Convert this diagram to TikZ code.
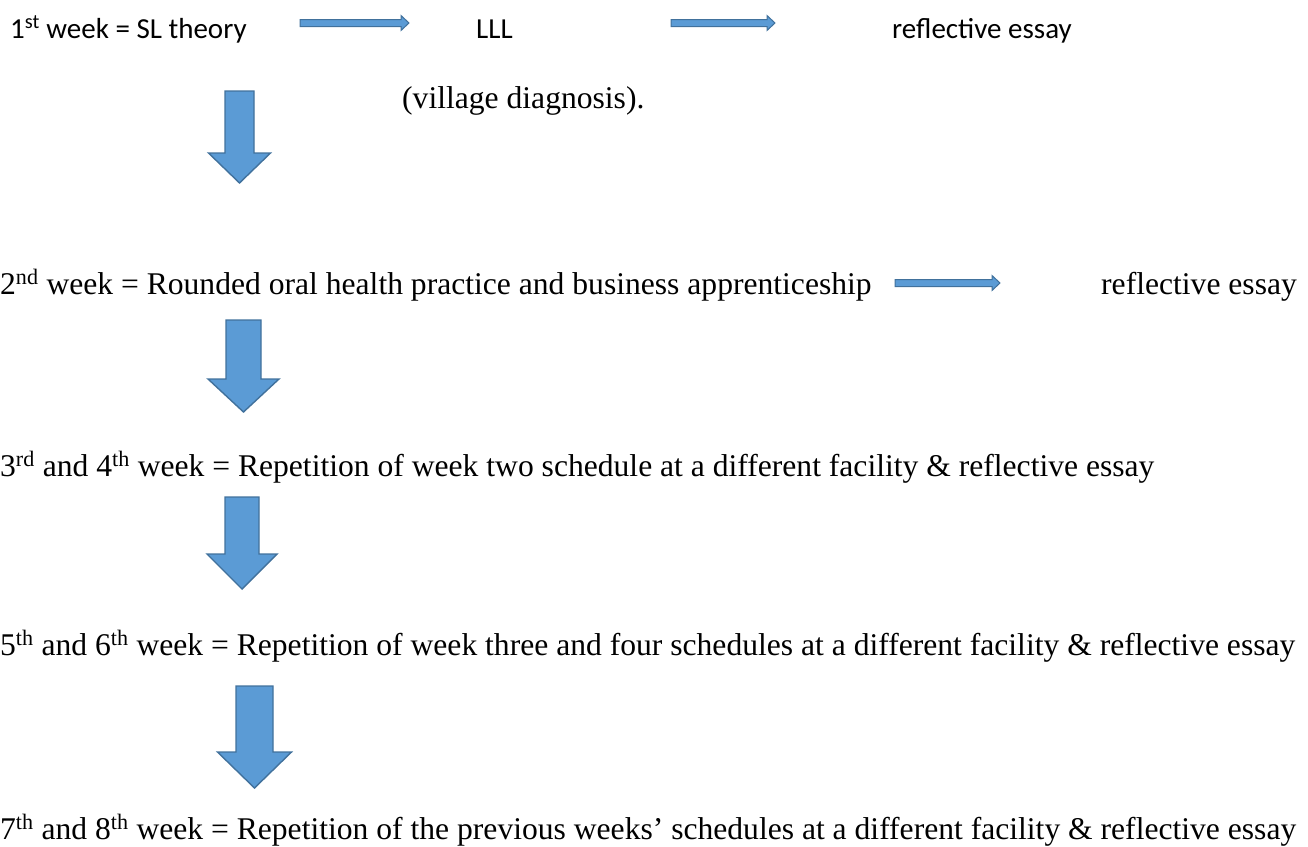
\documentclass[tikz,border=0pt]{standalone}
\usepackage{fontspec}
\setmainfont{Liberation Serif}
\newfontfamily\calfont{Carlito}
\definecolor{arrowfill}{HTML}{5B9BD5}
\definecolor{arrowline}{HTML}{41719C}
\tikzset{
  blockarrow/.style={fill=arrowfill, draw=arrowline, line width=1.4pt, line join=miter},
  thinarrow/.style={fill=arrowfill, draw=arrowline, line width=1pt, line join=miter},
  txt/.style={anchor=base west, inner sep=0pt, font=\fontsize{31.6}{31.6}\selectfont},
  cal/.style={anchor=base west, inner sep=0pt, font=\calfont\fontsize{29}{29}\selectfont}
}
% wide downward block arrow: centre x, top y, shaft half width, head start y, head half width, tip y
\newcommand\downblock[6]{%
  \filldraw[blockarrow] (#1-#3,#2) -- (#1+#3,#2) -- (#1+#3,#4) -- (#1+#5,#4)
    -- (#1,#6) -- (#1-#5,#4) -- (#1-#3,#4) -- cycle;}
% slim rightward block arrow: start x, end x, centre y
\newcommand\rightblock[3]{%
  \filldraw[thinarrow] (#1,#3-3.5) -- (#2-8,#3-3.5) -- (#2-8,#3-7.5) -- (#2,#3)
    -- (#2-8,#3+7.5) -- (#2-8,#3+3.5) -- (#1,#3+3.5) -- cycle;}
\begin{document}
\begin{tikzpicture}[x=1pt, y=-1pt]
\useasboundingbox (0,0) rectangle (1308,846);

% week 1
\node[cal] (w1) at (10,38) {1\textsuperscript{st} week = SL theory};
\node[cal] (lll) at (476,38) {LLL};
\node[cal] (r1) at (892,38) {reflective essay};
\node[txt] (vd) at (402,108) {(village diagnosis).};
\rightblock{300}{409}{23}
\rightblock{671}{775}{23}
\downblock{239.5}{91}{14.5}{153}{31}{183}

% week 2
\node[txt] (w2) at (0,294) {2\textsuperscript{nd} week = Rounded oral health practice and business apprenticeship};
\node[txt] (r2) at (1101,294) {reflective essay};
\rightblock{895}{1000}{283}
\downblock{243.5}{320}{17.5}{379}{35.5}{412}

% weeks 3 and 4
\node[txt] (w3) at (0,476) {3\textsuperscript{rd} and 4\textsuperscript{th} week = Repetition of week two schedule at a different facility \& reflective essay};
\downblock{242}{497}{17}{554}{35}{589}

% weeks 5 and 6
\node[txt] (w5) at (0,655) {5\textsuperscript{th} and 6\textsuperscript{th} week = Repetition of week three and four schedules at a different facility \& reflective essay};
\downblock{254.5}{686}{18.5}{752}{37}{788}

% weeks 7 and 8
\node[txt] (w7) at (0,839) {7\textsuperscript{th} and 8\textsuperscript{th} week = Repetition of the previous weeks’ schedules at a different facility \& reflective essay};
\end{tikzpicture}
\end{document}
